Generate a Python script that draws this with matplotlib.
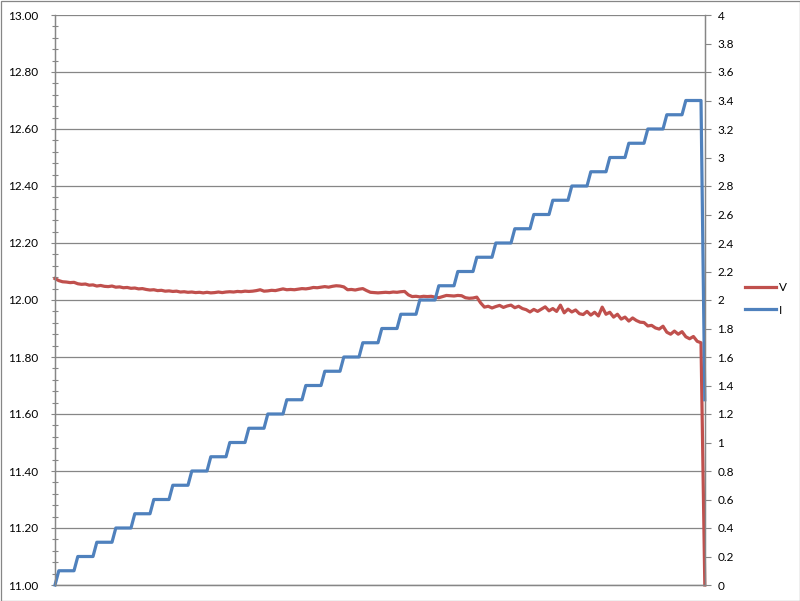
import matplotlib
matplotlib.use("Agg")
import matplotlib.pyplot as plt
import numpy as np
from matplotlib.patches import Rectangle
from matplotlib.ticker import MultipleLocator, FormatStrFormatter, FuncFormatter

plt.rcParams['font.family'] = ['Lato', 'DejaVu Sans']

# Voltage samples (V), one per time step
V = [12.075, 12.068, 12.064, 12.063, 12.061, 12.062, 12.057, 12.055, 12.056, 12.052,
     12.053, 12.049, 12.051, 12.048, 12.047, 12.049, 12.045, 12.046, 12.043, 12.044,
     12.041, 12.042, 12.039, 12.040, 12.037, 12.035, 12.036, 12.033, 12.034, 12.031,
     12.032, 12.030, 12.031, 12.028, 12.029, 12.027, 12.028, 12.026, 12.027, 12.025,
     12.027, 12.025, 12.026, 12.028, 12.026, 12.028, 12.029, 12.028, 12.030, 12.029,
     12.031, 12.030, 12.031, 12.033, 12.036, 12.031, 12.032, 12.034, 12.033, 12.036,
     12.039, 12.036, 12.037, 12.036, 12.038, 12.040, 12.039, 12.041, 12.044, 12.043,
     12.045, 12.047, 12.045, 12.048, 12.050, 12.049, 12.046, 12.036, 12.037, 12.035,
     12.038, 12.040, 12.033, 12.027, 12.026, 12.025, 12.026, 12.027, 12.026, 12.028,
     12.027, 12.029, 12.030, 12.018, 12.012, 12.013, 12.011, 12.013, 12.012, 12.013,
     12.010, 12.008, 12.012, 12.016, 12.015, 12.014, 12.016, 12.015, 12.008, 12.006,
     12.007, 12.010, 11.990, 11.975, 11.978, 11.972, 11.977, 11.981, 11.974, 11.979,
     11.982, 11.973, 11.978, 11.970, 11.966, 11.958, 11.967, 11.960, 11.968, 11.976,
     11.962, 11.970, 11.960, 11.982, 11.955, 11.968, 11.958, 11.965, 11.952, 11.949,
     11.960, 11.947, 11.957, 11.944, 11.975, 11.950, 11.957, 11.940, 11.950, 11.933,
     11.940, 11.926, 11.937, 11.928, 11.922, 11.921, 11.909, 11.911, 11.902, 11.898,
     11.908, 11.887, 11.880, 11.891, 11.880, 11.889, 11.871, 11.864, 11.872, 11.855,
     11.850, 11.000]

# Current (I): step levels and how many samples each lasts
I_levels = [0.0, 0.1, 0.2, 0.3, 0.4, 0.5, 0.6, 0.7, 0.8, 0.9, 1.0,
            1.1, 1.2, 1.3, 1.4, 1.5, 1.6, 1.7, 1.8, 1.9, 2.0,
            2.1, 2.2, 2.3, 2.4, 2.5, 2.6, 2.7, 2.8, 2.9, 3.0,
            3.1, 3.2, 3.3, 3.4, 1.3]
I_counts = [1] + [5] * 34 + [1]
I = np.repeat(I_levels, I_counts)

t = np.arange(len(V))

fig = plt.figure(figsize=(8.0, 6.01), dpi=100)
ax = fig.add_axes([55/800, 16/601, 650/800, 570/601])
ax2 = ax.twinx()

red = '#C0504D'
blue = '#4F81BD'
grid = '#868686'

l1, = ax.plot(t, V, color=red, lw=2.3, solid_joinstyle='round', clip_on=False)
l2, = ax2.plot(t, I, color=blue, lw=2.3, solid_joinstyle='round', clip_on=False)

ax.set_xlim(0, 171.05)
ax.set_ylim(11.0, 13.0)
ax2.set_ylim(0, 4)

ax.yaxis.set_major_locator(MultipleLocator(0.2))
ax.yaxis.set_major_formatter(FormatStrFormatter('%.2f'))
ax.yaxis.set_minor_locator(MultipleLocator(0.04))
ax2.yaxis.set_major_locator(MultipleLocator(0.2))
ax2.yaxis.set_major_formatter(FuncFormatter(lambda v, p: f'{v:.1f}'.rstrip('0').rstrip('.')))

ax.set_xticks([])
ax.grid(axis='y', which='major', color=grid, lw=0.9)
ax.set_axisbelow(True)

ax.tick_params(axis='y', which='major', direction='out', length=3, width=0.8, color=grid,
               labelsize=8.5, pad=9, labelcolor='black')
ax.tick_params(axis='y', which='minor', direction='inout', length=5, width=0.8, color=grid)
ax2.tick_params(axis='y', which='major', direction='out', length=4, width=0.8, color=grid,
                labelsize=8.5, pad=5, labelcolor='black')

for a in (ax, ax2):
    for s in ('left', 'right', 'bottom'):
        a.spines[s].set_color(grid)
        a.spines[s].set_linewidth(0.9)
    a.spines['top'].set_visible(False)

fig.legend([l1, l2], ['V', 'I'], loc='center left',
           bbox_to_anchor=(745/800, 1 - 299/601), frameon=False,
           fontsize=8.5, handlelength=2.6, handletextpad=0.3,
           labelspacing=0.95, borderpad=0, borderaxespad=0)

fig.patches.append(Rectangle((0.5/800, 0.5/601), 1 - 1/800, 1 - 1/601,
                             transform=fig.transFigure, fill=False,
                             edgecolor=grid, lw=0.9))

fig.savefig('out.png', dpi=100)
